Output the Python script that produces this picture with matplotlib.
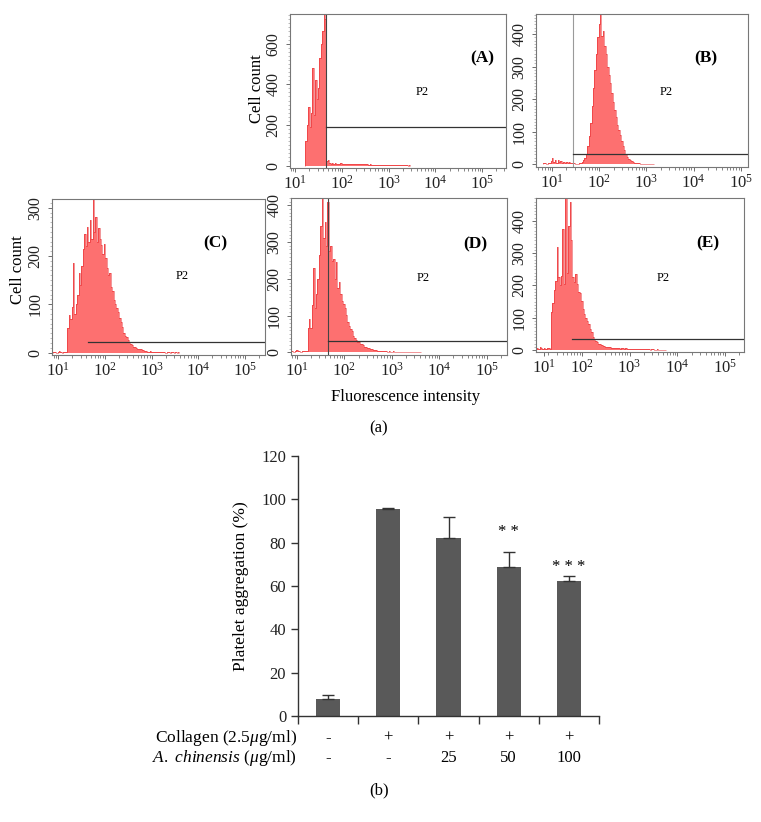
import numpy as np
import matplotlib
matplotlib.use("Agg")
import matplotlib.pyplot as plt
from matplotlib.ticker import FixedLocator, FixedFormatter, MultipleLocator, LogLocator, NullFormatter

plt.rcParams['font.family'] = ['Liberation Serif', 'DejaVu Serif']
plt.rcParams['mathtext.fontset'] = 'custom'
plt.rcParams['mathtext.rm'] = 'Liberation Serif'
plt.rcParams['mathtext.it'] = 'Liberation Serif:italic'
plt.rcParams['mathtext.bf'] = 'Liberation Serif:bold'

# ---- flow cytometry histograms: counts per 0.03-decade bin, first bin centre = start (log10) ----
step = 0.03

a_start = 1.23
a_counts = [120, 200, 290, 190, 260, 480, 250, 420, 330, 380, 530, 600, 660, 760, 720,
            22, 28, 15, 10, 12, 9, 11, 8, 10, 9, 11, 8, 10, 9, 8, 10, 8, 9, 7, 9, 8, 7, 8, 7,
            8, 6, 7, 6, 7, 6, 5, 6, 5, 5, 4, 5, 4, 4, 3, 4, 3, 3, 3, 2, 3, 2, 2, 2, 2, 1, 2,
            1, 1, 1, 1, 1, 1, 1, 0, 1]

b_start = 0.83
b_counts = [2, 4, 1, 3, 3, 8, 18, 6, 12, 4, 14, 5, 8, 3, 6, 4, 7, 3, 5, 3, 2, 2, 1, 1, 1,
            2, 3, 6, 12, 20, 30, 55, 85, 125, 180, 235, 290, 340, 390, 430, 480, 395, 410,
            365, 340, 300, 275, 250, 220, 190, 165, 145, 120, 105, 88, 70, 55, 42, 30, 22,
            16, 12, 8, 5, 4, 3, 2, 2, 1, 1, 1, 0, 1, 1, 0, 1, 0, 1]

c_start = 0.91
c_counts = [1, 2, 0, 1, 3, 1, 0, 2, 1, 2,
            50, 78, 70, 95, 185, 80, 100, 120, 165, 140, 180, 215, 245, 220, 260, 230, 275,
            235, 320, 250, 280, 230, 258, 236, 222, 205, 225, 195, 175, 160, 165, 135, 128,
            108, 100, 92, 84, 72, 64, 52, 40, 35, 32, 26, 22, 17, 15, 12, 11, 9, 8, 7, 7, 6,
            5, 4, 3, 2,
            2, 3, 2, 2, 1, 2, 1, 1, 2, 1, 1, 1, 0, 1, 1, 0, 1, 1, 0, 1, 0, 1]

d_start = 0.88
d_counts = [3, 5, 2, 4, 6, 3, 4, 2, 5, 3, 4, 3,
            66, 90, 66, 130, 230, 120, 160, 200, 265, 345, 440, 310, 355, 290, 410, 275, 290,
            250, 255, 200, 245, 175, 192, 160, 140, 132, 120, 102, 84, 72, 64, 58, 46, 40, 35,
            29, 27, 24, 22, 19, 16, 14, 12, 11, 9, 9, 7, 6, 6, 5, 4, 4, 3, 3, 3,
            3, 2, 3, 2, 2, 3, 2, 1, 2, 2, 1, 2, 1, 1, 2, 1, 1, 1, 1, 0, 1, 1, 0, 1, 1]

e_start = 1.04
e_counts = [4, 6, 3, 8, 5, 4, 7, 3, 5, 6, 4,
            119, 145, 185, 215, 320, 225, 200, 230, 375, 205, 480, 240, 385, 460, 340, 225,
            210, 235, 205, 180, 178, 152, 128, 112, 100, 90, 80, 66, 56, 40, 34, 28, 24, 20,
            18, 15, 13, 12, 10, 10, 9, 8, 7, 7, 6,
            6, 5, 6, 4, 5, 5, 4, 5, 3, 4, 4, 3, 4, 3, 3, 2, 3, 3, 2, 3, 2, 2, 3, 2, 1, 2, 2,
            1, 1, 2, 1, 1, 1, 0, 1]

# axis ranges (log10 of x) and y ranges of each panel
x_ranges = {'A': (0.886, 5.51), 'B': (0.656, 5.155), 'C': (0.864, 5.43),
            'D': (0.877, 5.43), 'E': (1.04, 5.40)}
y_ranges = {'A': (-12, 746), 'B': (-9, 462), 'C': (-5, 318), 'D': (-7, 420), 'E': (-6, 471)}
y_ticks = {'A': [0, 200, 400, 600], 'B': [0, 100, 200, 300, 400], 'C': [0, 100, 200, 300],
           'D': [0, 100, 200, 300, 400], 'E': [0, 100, 200, 300, 400]}
x_tick_pos = {'A': [1, 2, 3, 4, 5], 'B': [1, 2, 3, 4, 5], 'C': [1, 2, 3, 4, 5],
              'D': [1, 2, 3, 4, 5], 'E': [1.2, 2, 3, 4, 5]}
x_tick_labels = ['$10^{1}$', '$10^{2}$', '$10^{3}$', '$10^{4}$', '$10^{5}$']
# P2 gate: vertical marker (log10, None if absent), horizontal start (log10), level (count)
gates = {'A': (1.651, 1.651, 190), 'B': (1.44, 1.44, 30), 'C': (None, 1.635, 22),
         'D': (1.663, 1.663, 31), 'E': (None, 1.80, 34)}

# ---- platelet aggregation ----
groups = np.arange(5)
aggregation = [7.7, 95.4, 82.3, 68.9, 62.2]
agg_err = [2.1, 0.6, 9.4, 6.9, 2.4]
collagen_row = ['-', '+', '+', '+', '+']
chinensis_row = ['-', '-', '25', '50', '100']
stars = ['', '', '', '* *', '* * *']
star_y = [0, 0, 0, 84.9, 68.7]

W, H = 761, 822
fig = plt.figure(figsize=(W / 100, H / 100), dpi=100)


def px_axes(x0, y0, x1, y1):
    return fig.add_axes([x0 / W, 1 - y1 / H, (x1 - x0) / W, (y1 - y0) / H])


def px_text(x, y, s, **kw):
    fig.text(x / W, 1 - y / H, s, **kw)


fill_col = '#fd7070'
edge_col = '#e0161b'
frame_col = '#555555'

panels = {
    'A': ((290, 14, 506, 168), a_start, a_counts),
    'B': ((536, 14, 748, 167), b_start, b_counts),
    'C': ((52, 199, 265, 355), c_start, c_counts),
    'D': ((291, 198, 507, 355), d_start, d_counts),
    'E': ((536, 198, 744, 352), e_start, e_counts),
}

for name, (box, start, counts) in panels.items():
    ax = px_axes(*box)
    edges = 10 ** (start - step / 2 + step * np.arange(len(counts) + 1))
    ax.stairs(counts, edges, fill=True, color=fill_col, lw=0)
    ax.stairs(counts, edges, color=edge_col, lw=0.45, alpha=0.7)
    ax.set_xscale('log')
    lo, hi = x_ranges[name]
    ax.set_xlim(10 ** lo, 10 ** hi)
    ax.set_ylim(*y_ranges[name])

    vx, hx, lvl = gates[name]
    if vx is not None:
        ax.axvline(10 ** vx, color='#9a9a9a' if name == 'B' else '#444444', lw=0.8)
    ax.plot([10 ** hx, 10 ** hi], [lvl, lvl], color='#333333', lw=0.9)

    ax.xaxis.set_major_locator(FixedLocator([10 ** p for p in x_tick_pos[name]]))
    ax.xaxis.set_major_formatter(FixedFormatter(x_tick_labels))
    ax.xaxis.set_minor_locator(LogLocator(base=10, subs=np.arange(2, 10), numticks=20))
    ax.xaxis.set_minor_formatter(NullFormatter())
    ax.set_yticks(y_ticks[name])
    ax.yaxis.set_minor_locator(MultipleLocator(y_ticks[name][1] / 10))
    ax.tick_params(axis='x', which='major', length=3, width=0.6, pad=2, labelsize=12,
                   colors=frame_col, labelcolor='#222222')
    ax.tick_params(axis='x', which='minor', length=2, width=0.5, colors=frame_col)
    ax.tick_params(axis='y', which='major', length=3, width=0.6, pad=3, labelsize=11.5,
                   colors=frame_col, labelcolor='#222222')
    ax.tick_params(axis='y', which='minor', length=1.5, width=0.4, colors='#888888')
    plt.setp(ax.get_yticklabels(), rotation=90, va='center')
    for s in ax.spines.values():
        s.set_color('#777777')
        s.set_linewidth(0.8)

# panel tags and P2 labels
tags = {'A': (482, 58), 'B': (706, 58), 'C': (215, 243), 'D': (475, 244), 'E': (708, 243)}
p2_pos = {'A': (422, 92), 'B': (666, 92), 'C': (182, 276), 'D': (423, 278), 'E': (663, 278)}
for name in panels:
    px_text(*tags[name], '(' + name + ')', fontsize=12.5, fontweight='bold', ha='center', va='center')
    px_text(*p2_pos[name], 'P2', fontsize=9, ha='center', va='center')

px_text(257, 89, 'Cell count', fontsize=12, rotation=90, ha='center', va='center')
px_text(18, 270, 'Cell count', fontsize=12, rotation=90, ha='center', va='center')
px_text(406, 397, 'Fluorescence intensity', fontsize=12, ha='center', va='center')
px_text(379, 428, '(a)', fontsize=12, ha='center', va='center')

# ---- bar chart ----
ax = px_axes(298, 456, 599, 716)
ax.bar(groups, aggregation, width=0.4, color='#595959', zorder=2)
ax.errorbar(groups, aggregation, yerr=[np.zeros(5), agg_err], fmt='none', ecolor='#333333',
            elinewidth=1, capsize=4, capthick=1, zorder=3)
ax.set_xlim(-0.5, 4.5)
ax.set_ylim(0, 120)
ax.set_yticks(np.arange(0, 121, 20))
ax.set_xticks(np.arange(-0.5, 5, 1))
ax.set_xticklabels([])
ax.tick_params(axis='x', length=6, width=1, colors='#333333')
ax.tick_params(axis='y', length=5, width=1, colors='#333333', labelcolor='#222222', labelsize=12)
ax.spines['top'].set_visible(False)
ax.spines['right'].set_visible(False)
for s in ('left', 'bottom'):
    ax.spines[s].set_color('#333333')
    ax.spines[s].set_linewidth(1)
ax.set_ylabel('Platelet aggregation (%)', fontsize=12.5, labelpad=9)

for i in groups:
    if stars[i]:
        ax.text(i, star_y[i], stars[i], ha='center', va='center', fontsize=12)
    ax.text(i, -0.085, collagen_row[i], transform=ax.get_xaxis_transform(),
            ha='center', va='center', fontsize=12)
    ax.text(i, -0.162, chinensis_row[i], transform=ax.get_xaxis_transform(),
            ha='center', va='center', fontsize=12)

px_text(297, 738, r'Collagen (2.5$\mu$g/ml)', fontsize=12.5, ha='right', va='center')
px_text(297, 758, r'$\mathit{A.\ chinensis}$ ($\mu$g/ml)', fontsize=12.5, ha='right', va='center')
px_text(379, 790, '(b)', fontsize=12, ha='center', va='center')

fig.savefig('out.png', dpi=100)
